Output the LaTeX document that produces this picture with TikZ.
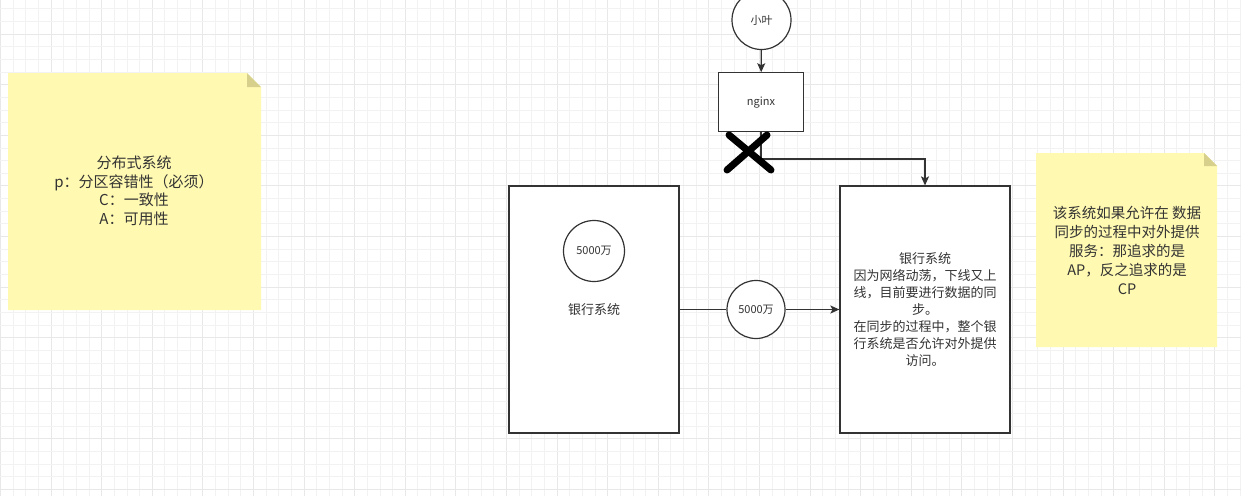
\documentclass[tikz,border=0pt]{standalone}
\usepackage{fontspec}
\setmainfont{Noto Sans CJK SC}
\usetikzlibrary{arrows.meta}
\definecolor{ink}{HTML}{333333}
\definecolor{gridminor}{HTML}{F2F2F2}
\definecolor{gridmajor}{HTML}{E8E8E8}
\definecolor{notefill}{HTML}{FFF9B2}
\definecolor{notefold}{HTML}{D6D08C}
\tikzset{
  box/.style={draw=ink, line width=1.2pt, fill=white, rectangle, inner sep=0pt},
  disc/.style={draw=ink, line width=1.2pt, fill=white, circle, inner sep=0pt},
  arr/.style={draw=ink, line width=1.2pt, -{Stealth[length=9pt,width=8pt,inset=2pt]}},
  plain/.style={draw=ink, line width=1.2pt},
  txt/.style={text=ink, align=center, inner sep=0pt},
  cross/.style={draw=black, line width=7pt, line cap=round},
}
\begin{document}
\begin{tikzpicture}[x=1pt,y=-1pt]
\useasboundingbox (0,0) rectangle (1241,496);
\fill[white] (0,0) rectangle (1241,496);
% grid
\foreach \i in {0,...,98} {
  \pgfmathtruncatemacro{\m}{mod(\i,4)}
  \ifnum\m=0
    \draw[gridmajor, line width=0.9pt] (0.4+\i*12.65,0) -- ++(0,496);
  \else
    \draw[gridminor, line width=0.8pt] (0.4+\i*12.65,0) -- ++(0,496);
  \fi
}
\foreach \j in {1,...,40} {
  \pgfmathtruncatemacro{\m}{mod(\j,4)}
  \ifnum\m=3
    \draw[gridmajor, line width=0.9pt] (0,-3.85+\j*12.65) -- ++(1241,0);
  \else
    \draw[gridminor, line width=0.8pt] (0,-3.85+\j*12.65) -- ++(1241,0);
  \fi
}
% left sticky note
\fill[notefill] (8,73) -- (247,73) -- (261,87) -- (261,310) -- (8,310) -- cycle;
\fill[notefold] (247,73) -- (247,87) -- (261,87) -- cycle;
\node[txt, font=\fontsize{15}{18.5}\selectfont] (notea) at (134,191)
  {分布式系统\\p：分区容错性（必须）\\C：一致性\\A：可用性};
% right sticky note
\fill[notefill] (1036,153) -- (1204,153) -- (1217,166) -- (1217,347) -- (1036,347) -- cycle;
\fill[notefold] (1204,153) -- (1204,166) -- (1217,166) -- cycle;
\node[txt, font=\fontsize{14.5}{19}\selectfont] (noteb) at (1127,250)
  {该系统如果允许在 数据\\同步的过程中对外提供\\服务：那追求的是\\AP，反之追求的是\\CP};
% nodes
\node[disc, minimum size=59pt, font=\fontsize{11}{13}\selectfont, text=ink] (xiaoye) at (761.5,20) {小叶};
\node[box, minimum width=85pt, minimum height=59pt, font=\fontsize{11}{13}\selectfont, text=ink] (nginx) at (761,102.3) {nginx};
\node[box, minimum width=170pt, minimum height=247pt] (left) at (594,309.5) {};
\node[disc, minimum size=61pt, font=\fontsize{11}{13}\selectfont, text=ink] (leftcirc) at (594,251) {5000万};
\node[txt, font=\fontsize{13}{16}\selectfont] (leftlabel) at (594,310) {银行系统};
\node[box, minimum width=170pt, minimum height=247pt, align=center, text=ink,
      font=\fontsize{13}{17}\selectfont] (right) at (925,309.5)
  {银行系统\\因为网络动荡，下线又上\\线，目前要进行数据的同\\步。\\在同步的过程中，整个银\\行系统是否允许对外提供\\访问。};
\node[disc, minimum size=58pt, font=\fontsize{11}{13}\selectfont, text=ink] (midcirc) at (756,309.5) {5000万};
% connectors
\draw[arr] (xiaoye) -- (nginx);
\coordinate (turn) at (925,159);
\draw[arr] (nginx.south) |- (turn) -- (right.north);
\draw[plain] (left.east) -- (midcirc.west);
\draw[arr] (midcirc.east) -- (right.west);
% cross
\draw[cross] (729,135) -- (771,170);
\draw[cross] (767,135) -- (727,170);
\end{tikzpicture}
\end{document}
